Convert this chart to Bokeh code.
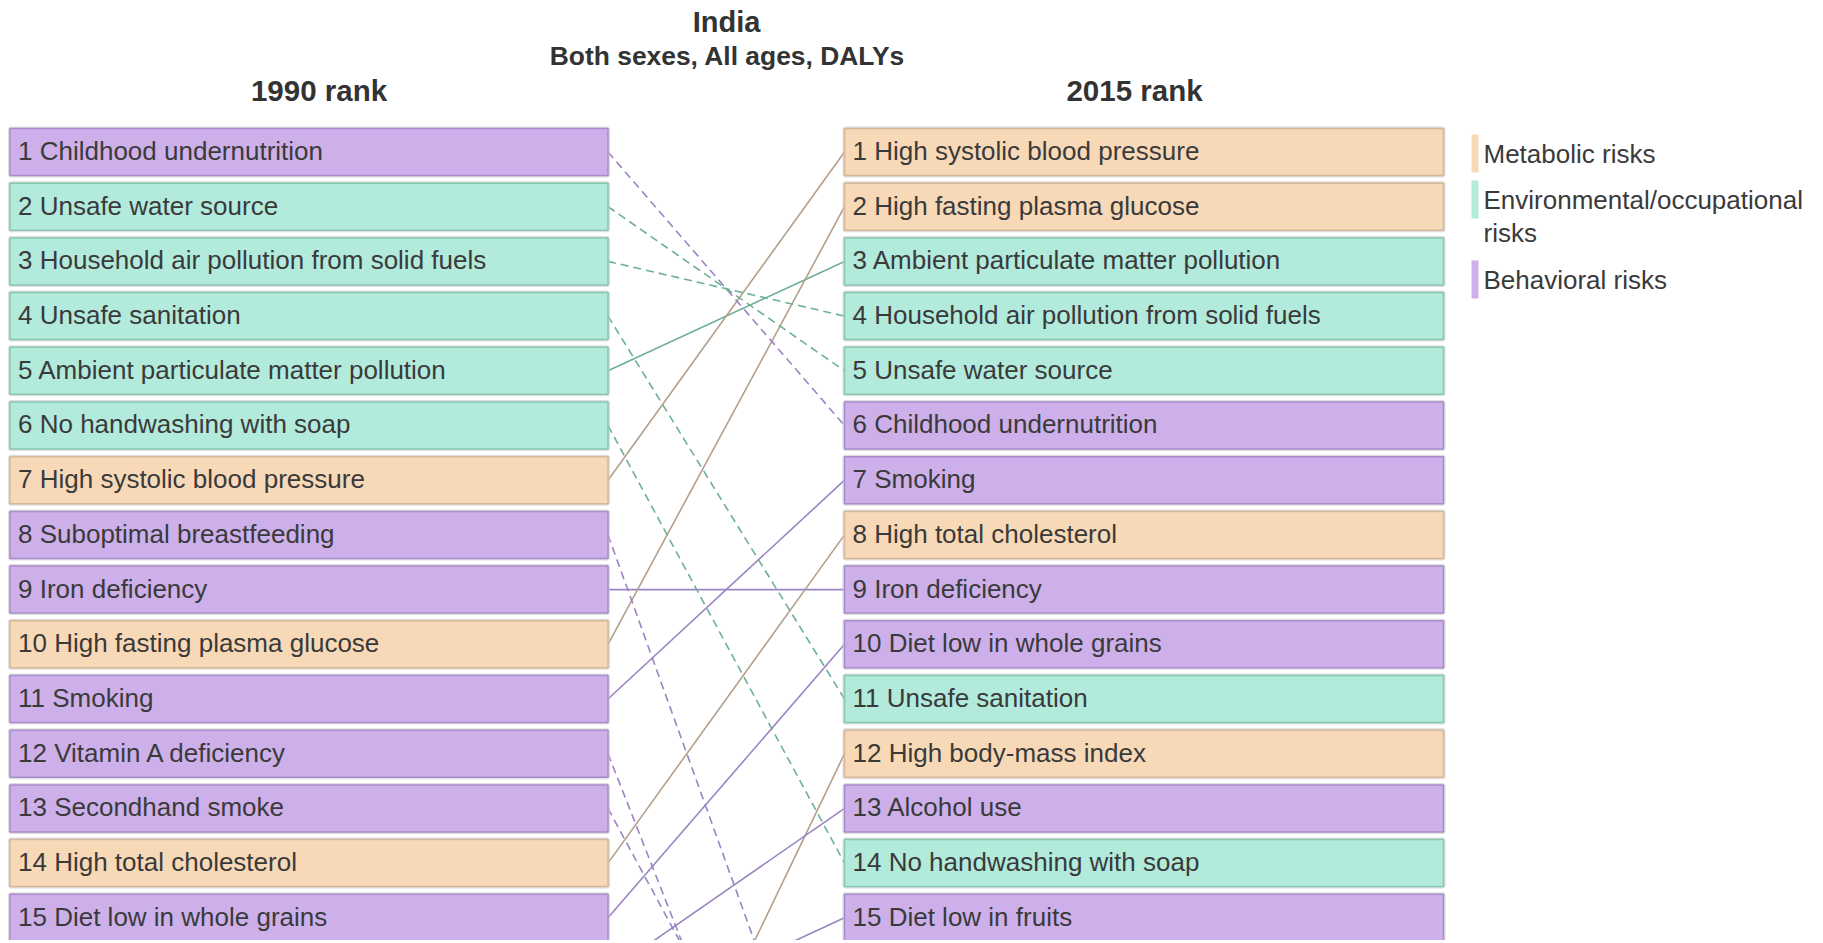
from bokeh.plotting import figure
from bokeh.models import Range1d, ColumnDataSource
from bokeh.core.properties import value
from bokeh.embed import file_html
from bokeh.resources import INLINE

# ---------------- data ----------------
title_main = "India"
title_sub = "Both sexes, All ages, DALYs"
col_left = "1990 rank"
col_right = "2015 rank"

risk_names = [
    "Childhood undernutrition", "Unsafe water source",
    "Household air pollution from solid fuels", "Unsafe sanitation",
    "Ambient particulate matter pollution", "No handwashing with soap",
    "High systolic blood pressure", "Suboptimal breastfeeding",
    "Iron deficiency", "High fasting plasma glucose", "Smoking",
    "Vitamin A deficiency", "Secondhand smoke", "High total cholesterol",
    "Diet low in whole grains", "High body-mass index", "Alcohol use",
    "Diet low in fruits",
]
risk_cat = [
    "Behavioral", "Environmental", "Environmental", "Environmental",
    "Environmental", "Environmental", "Metabolic", "Behavioral",
    "Behavioral", "Metabolic", "Behavioral", "Behavioral", "Behavioral",
    "Metabolic", "Behavioral", "Metabolic", "Behavioral", "Behavioral",
]
rank_1990 = [1, 2, 3, 4, 5, 6, 7, 8, 9, 10, 11, 12, 13, 14, 15, 21, 16, 17]
rank_2015 = [6, 5, 4, 11, 3, 14, 1, 20, 9, 2, 7, 23, 21, 8, 10, 12, 13, 15]

legend_keys = ["Metabolic", "Environmental", "Behavioral"]
legend_text = [["Metabolic risks"], ["Environmental/occupational", "risks"], ["Behavioral risks"]]

shown_ranks = 15

# ---------------- styles ----------------
FILL = {"Metabolic": "#F7D9B8", "Environmental": "#B2EADC", "Behavioral": "#CDB0EA"}
EDGE = {"Metabolic": "#D6B898", "Environmental": "#86C7B2", "Behavioral": "#A88CCB"}
LINK = {"Metabolic": "#B39F8B", "Environmental": "#6DAF99", "Behavioral": "#9A84C2"}
TEXT = "#3a3a3a"
FONT = "Liberation Sans"

W, H = 1815, 940
PITCH = 54.7            # pixels per rank
Y1 = 151.5              # pixel centre of rank 1
TOP = 1 - Y1 / PITCH    # rank value at the top edge of the canvas
LX0, LX1 = 9.5, 607.5   # left column box edges (px)
RX0, RX1 = 844.0, 1443.0
BOX_H = 47.0 / PITCH


def ry(px):
    return TOP + px / PITCH


p = figure(width=W, height=H, output_backend="svg", toolbar_location=None,
           x_range=Range1d(0, W), y_range=Range1d(TOP + H / PITCH, TOP),
           min_border=0, outline_line_color=None)
p.axis.visible = False
p.grid.visible = False
p.background_fill_color = "white"
p.border_fill_color = "white"

# ---------------- links ----------------
solid = dict(x0=[], y0=[], x1=[], y1=[], c=[])
dashed = dict(x0=[], y0=[], x1=[], y1=[], c=[])
for n, c, a, b in zip(risk_names, risk_cat, rank_1990, rank_2015):
    if a > shown_ranks and b > shown_ranks:
        continue
    d = solid if b <= a else dashed
    d["x0"].append(LX1); d["y0"].append(a)
    d["x1"].append(RX0); d["y1"].append(b)
    d["c"].append(LINK[c])
p.segment("x0", "y0", "x1", "y1", source=ColumnDataSource(solid),
          line_color="c", line_width=1.6)
p.segment("x0", "y0", "x1", "y1", source=ColumnDataSource(dashed),
          line_color="c", line_width=1.6, line_dash="8 5")

# ---------------- boxes ----------------
boxes = dict(l=[], r=[], t=[], b=[], f=[], e=[], tx=[], ty=[], lab=[])
for n, c, a, b in zip(risk_names, risk_cat, rank_1990, rank_2015):
    for rank, x0, x1 in ((a, LX0, LX1), (b, RX0, RX1)):
        if rank > shown_ranks:
            continue
        boxes["l"].append(x0); boxes["r"].append(x1)
        boxes["t"].append(rank - BOX_H / 2); boxes["b"].append(rank + BOX_H / 2)
        boxes["f"].append(FILL[c]); boxes["e"].append(EDGE[c])
        boxes["tx"].append(x0 + 8); boxes["ty"].append(rank - 0.02)
        boxes["lab"].append(f"{rank} {n}")
bsrc = ColumnDataSource(boxes)
# soft shadow
p.quad(left="l", right="r", top="t", bottom="b", source=bsrc,
       fill_color=None, line_color="#c8c8c8", line_width=4, line_alpha=0.6)
p.quad(left="l", right="r", top="t", bottom="b", source=bsrc,
       fill_color="f", line_color="e", line_width=1.5)
p.text(x="tx", y="ty", text="lab", source=bsrc, text_font=value(FONT),
       text_font_size="26px", text_color=TEXT, text_baseline="middle",
       text_align="left")

# ---------------- titles ----------------
p.text(x=[726], y=[ry(21)], text=[title_main], text_font=value(FONT),
       text_font_size="29px", text_font_style="bold", text_color="#333333",
       text_align="center", text_baseline="middle")
p.text(x=[727], y=[ry(55)], text=[title_sub], text_font=value(FONT),
       text_font_size="26.4px", text_font_style="bold", text_color="#333333",
       text_align="center", text_baseline="middle")
p.text(x=[318.5, 1134], y=[ry(89.5), ry(89.5)], text=[col_left, col_right],
       text_font=value(FONT), text_font_size="29.5px", text_font_style="bold",
       text_color="#333333", text_align="center", text_baseline="middle")

# ---------------- legend ----------------
sw_top = [134, 180, 260]
sw_h = 38
leg = dict(l=[], r=[], t=[], b=[], f=[])
lt = dict(x=[], y=[], s=[])
for k, lines, y0 in zip(legend_keys, legend_text, sw_top):
    leg["l"].append(1471); leg["r"].append(1478)
    leg["t"].append(ry(y0)); leg["b"].append(ry(y0 + sw_h))
    leg["f"].append(FILL[k])
    for i, s in enumerate(lines):
        lt["x"].append(1483); lt["y"].append(ry(y0 + 19 + i * 33)); lt["s"].append(s)
p.quad(left="l", right="r", top="t", bottom="b", source=ColumnDataSource(leg),
       fill_color="f", line_color=None)
p.text(x="x", y="y", text="s", source=ColumnDataSource(lt), text_font=value(FONT),
       text_font_size="26px", text_color=TEXT, text_baseline="middle",
       text_align="left")

open("out.html", "w").write(file_html(p, INLINE))
